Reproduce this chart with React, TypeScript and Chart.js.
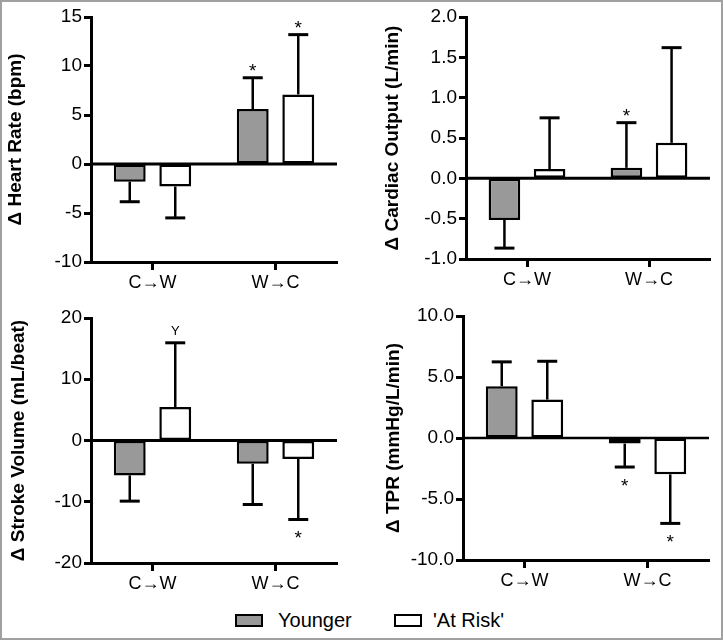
import React, { useEffect, useRef } from "react";
import { Chart, registerables } from "chart.js";

Chart.register(...registerables);

// ---------- data ----------
const categories = ["C→W", "W→C"];
const seriesNames = ["Younger", "'At Risk'"];

const hrYounger = [-1.8, 5.6];
const hrYoungerErr = [2.05, 3.2];
const hrAtRisk = [-2.3, 7.1];
const hrAtRiskErr = [3.2, 6.1];
const hrYoungerMarks = ["", "*"];
const hrAtRiskMarks = ["", "*"];

const coYounger = [-0.515, 0.13];
const coYoungerErr = [0.35, 0.56];
const coAtRisk = [0.115, 0.44];
const coAtRiskErr = [0.635, 1.18];
const coYoungerMarks = ["", "*"];
const coAtRiskMarks = ["", ""];

const svYounger = [-5.7, -3.8];
const svYoungerErr = [4.2, 6.65];
const svAtRisk = [5.45, -3.0];
const svAtRiskErr = [10.5, 9.9];
const svYoungerMarks = ["", ""];
const svAtRiskMarks = ["Y", "*"];

const tprYounger = [4.24, -0.46];
const tprYoungerErr = [2.0, 1.92];
const tprAtRisk = [3.15, -2.98];
const tprAtRiskErr = [3.14, 4.02];
const tprYoungerMarks = ["", "*"];
const tprAtRiskMarks = ["", "*"];

const hrTicks = { min: -10, max: 15, step: 5, decimals: 0 };
const coTicks = { min: -1, max: 2, step: 0.5, decimals: 1 };
const svTicks = { min: -20, max: 20, step: 10, decimals: 0 };
const tprTicks = { min: -10, max: 10, step: 5, decimals: 1 };

// ---------- styles ----------
const FONT = "'Liberation Sans', Arial, Helvetica, sans-serif";
const GREY = "#999999";

type PanelDef = {
  title: string;
  ticks: { min: number; max: number; step: number; decimals: number };
  younger: number[];
  youngerErr: number[];
  atRisk: number[];
  atRiskErr: number[];
  youngerMarks: string[];
  atRiskMarks: string[];
  // layout
  left: number;
  top: number;
  width: number;
  height: number;
  padLeft: number;
  padTop: number;
  padRight: number;
  yWidth: number;
  xHeight: number;
  zeroWidth: number;
};

const panels: PanelDef[] = [
  {
    title: "Δ Heart Rate (bpm)",
    ticks: hrTicks,
    younger: hrYounger,
    youngerErr: hrYoungerErr,
    atRisk: hrAtRisk,
    atRiskErr: hrAtRiskErr,
    youngerMarks: hrYoungerMarks,
    atRiskMarks: hrAtRiskMarks,
    left: 0,
    top: 0,
    width: 361,
    height: 300,
    padLeft: 0,
    padTop: 17,
    padRight: 24,
    yWidth: 91,
    xHeight: 38,
    zeroWidth: 3,
  },
  {
    title: "Δ Cardiac Output (L/min)",
    ticks: coTicks,
    younger: coYounger,
    youngerErr: coYoungerErr,
    atRisk: coAtRisk,
    atRiskErr: coAtRiskErr,
    youngerMarks: coYoungerMarks,
    atRiskMarks: coAtRiskMarks,
    left: 361,
    top: 0,
    width: 361,
    height: 300,
    padLeft: 16,
    padTop: 17,
    padRight: 12,
    yWidth: 89,
    xHeight: 41,
    zeroWidth: 3,
  },
  {
    title: "Δ Stroke Volume (mL/beat)",
    ticks: svTicks,
    younger: svYounger,
    youngerErr: svYoungerErr,
    atRisk: svAtRisk,
    atRiskErr: svAtRiskErr,
    youngerMarks: svYoungerMarks,
    atRiskMarks: svAtRiskMarks,
    left: 0,
    top: 300,
    width: 361,
    height: 300,
    padLeft: 3,
    padTop: 18,
    padRight: 24,
    yWidth: 88,
    xHeight: 37,
    zeroWidth: 3,
  },
  {
    title: "Δ TPR (mmHg/L/min)",
    ticks: tprTicks,
    younger: tprYounger,
    youngerErr: tprYoungerErr,
    atRisk: tprAtRisk,
    atRiskErr: tprAtRiskErr,
    youngerMarks: tprYoungerMarks,
    atRiskMarks: tprAtRiskMarks,
    left: 361,
    top: 300,
    width: 361,
    height: 300,
    padLeft: 17,
    padTop: 16,
    padRight: 13,
    yWidth: 85,
    xHeight: 40,
    zeroWidth: 2.5,
  },
];

function makeErrorPlugin(p: PanelDef) {
  const errs = [p.youngerErr, p.atRiskErr];
  const marks = [p.youngerMarks, p.atRiskMarks];
  return {
    id: "errorBars",
    afterDatasetsDraw(chart: any) {
      const { ctx, chartArea, scales } = chart;
      const y = scales.y;
      ctx.save();
      ctx.strokeStyle = "#000";
      ctx.fillStyle = "#000";
      chart.data.datasets.forEach((ds: any, di: number) => {
        const meta = chart.getDatasetMeta(di);
        meta.data.forEach((bar: any, i: number) => {
          const v = ds.data[i] as number;
          const e = errs[di][i];
          const end = v >= 0 ? v + e : v - e;
          const yv = y.getPixelForValue(v);
          const ye = y.getPixelForValue(end);
          ctx.lineWidth = 2.5;
          ctx.beginPath();
          ctx.moveTo(bar.x, yv);
          ctx.lineTo(bar.x, ye);
          ctx.stroke();
          ctx.lineWidth = 3;
          ctx.beginPath();
          ctx.moveTo(bar.x - 10, ye);
          ctx.lineTo(bar.x + 10, ye);
          ctx.stroke();
          const m = marks[di][i];
          if (m) {
            const fs = m === "*" ? 19 : 13;
            ctx.font = `${fs}px ${FONT}`;
            ctx.textAlign = "center";
            ctx.textBaseline = "alphabetic";
            const centerOff = m === "*" ? 0.573 * fs : 0.358 * fs;
            let cy: number;
            if (v >= 0) cy = ye - 12;
            else cy = ye + 14;
            ctx.fillText(m, bar.x, cy + centerOff);
          }
        });
      });
      // zero line
      const y0 = y.getPixelForValue(0);
      ctx.lineWidth = p.zeroWidth;
      ctx.beginPath();
      ctx.moveTo(chartArea.left, y0);
      ctx.lineTo(chartArea.right, y0);
      ctx.stroke();
      ctx.restore();
    },
  };
}

function Panel({ p }: { p: PanelDef }) {
  const ref = useRef<HTMLCanvasElement>(null);
  useEffect(() => {
    if (!ref.current) return;
    const chart = new Chart(ref.current, {
      type: "bar",
      data: {
        labels: categories,
        datasets: [
          {
            label: seriesNames[0],
            data: p.younger,
            backgroundColor: GREY,
            borderColor: "#000",
            borderWidth: 2.5,
            borderSkipped: false,
            categoryPercentage: 0.74,
            barPercentage: 0.7,
          },
          {
            label: seriesNames[1],
            data: p.atRisk,
            backgroundColor: "#ffffff",
            borderColor: "#000",
            borderWidth: 2.5,
            borderSkipped: false,
            categoryPercentage: 0.74,
            barPercentage: 0.7,
          },
        ],
      },
      options: {
        responsive: false,
        animation: false,
        events: [],
        layout: {
          padding: { left: p.padLeft, top: p.padTop, right: p.padRight, bottom: 0 },
        },
        plugins: {
          legend: { display: false },
          tooltip: { enabled: false },
        },
        scales: {
          x: {
            type: "category",
            offset: true,
            grid: {
              display: true,
              drawOnChartArea: false,
              drawTicks: true,
              tickLength: 8,
              tickWidth: 3,
              tickColor: "#000",
              color: "#000",
              offset: false,
            },
            border: { display: true, color: "#000", width: 3 },
            ticks: {
              color: "#000",
              font: { family: FONT, size: 18 },
              padding: 2,
              maxRotation: 0,
            },
            afterFit(scale: any) {
              scale.height = p.xHeight;
            },
          },
          y: {
            min: p.ticks.min,
            max: p.ticks.max,
            grid: {
              display: true,
              drawOnChartArea: false,
              drawTicks: true,
              tickLength: 7,
              tickWidth: 3,
              tickColor: "#000",
              color: "#000",
            },
            border: { display: true, color: "#000", width: 3 },
            ticks: {
              stepSize: p.ticks.step,
              color: "#000",
              font: { family: FONT, size: 19 },
              padding: 2,
              callback: (v: any) => Number(v).toFixed(p.ticks.decimals),
            },
            title: {
              display: true,
              text: p.title,
              color: "#000",
              font: { family: FONT, size: 19, weight: "bold" },
              padding: { top: 4, bottom: 4 },
            },
            afterFit(scale: any) {
              scale.width = p.yWidth;
            },
          },
        },
      } as any,
      plugins: [makeErrorPlugin(p)],
    });
    return () => chart.destroy();
  }, [p]);
  return (
    <canvas
      ref={ref}
      width={p.width}
      height={p.height}
      style={{ position: "absolute", left: p.left, top: p.top, width: p.width, height: p.height }}
    />
  );
}

export default function App() {
  const legendText: React.CSSProperties = {
    position: "absolute",
    top: 609,
    fontFamily: FONT,
    fontSize: 20,
    lineHeight: "23px",
    color: "#000",
  };
  const box: React.CSSProperties = {
    position: "absolute",
    top: 614,
    width: 28,
    height: 13,
    boxSizing: "border-box",
    border: "2px solid #000",
  };
  return (
    <div
      style={{
        position: "absolute",
        left: 0,
        top: 0,
        width: 723,
        height: 640,
        background: "#fff",
        overflow: "hidden",
      }}
    >
      <div
        style={{
          position: "absolute",
          left: 0,
          top: 0,
          width: 723,
          height: 640,
          boxSizing: "border-box",
          border: "2px solid #a0a0a0",
        }}
      />
      {panels.map((p, i) => (
        <Panel key={i} p={p} />
      ))}
      <div style={{ ...box, left: 235, background: GREY }} />
      <div style={{ ...legendText, left: 278 }}>{seriesNames[0]}</div>
      <div style={{ ...box, left: 394, background: "#fff" }} />
      <div style={{ ...legendText, left: 433 }}>{seriesNames[1]}</div>
    </div>
  );
}
